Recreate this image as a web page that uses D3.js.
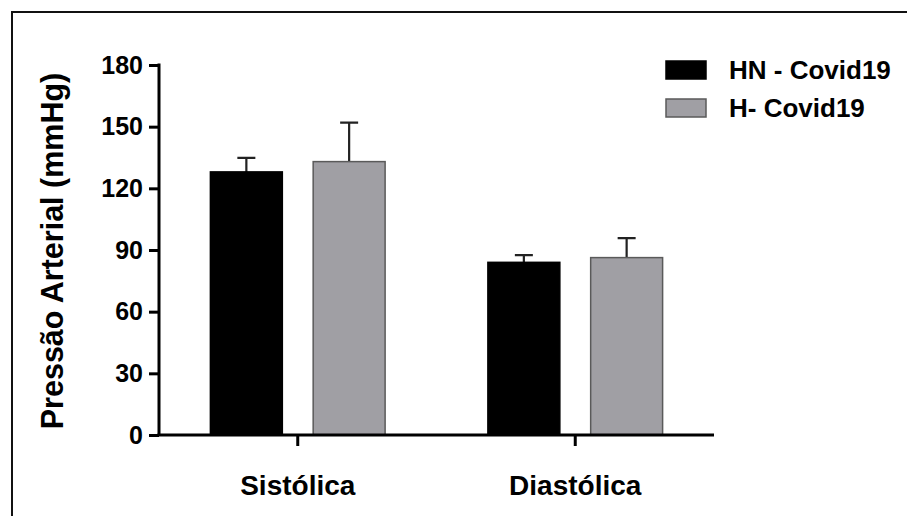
<!DOCTYPE html>
<html>
<head>
<meta charset="utf-8">
<script src="https://cdn.jsdelivr.net/npm/d3@7"></script>
<style>
  body { margin: 0; background: #fff; }
  svg { display: block; font-family: "Liberation Sans", Arial, sans-serif; font-weight: bold; }
</style>
</head>
<body>
<div class="chart"></div>
<script>
// data
const categories = ["Sistólica", "Diastólica"];
const groups = ["HN - Covid19", "H- Covid19"];
const hnMeans = [128, 84];      // HN - Covid19
const hnSd = [6.8, 3.5];
const hMeans = [133, 86.3];     // H- Covid19
const hSd = [19, 9.5];
const yTicks = [0, 30, 60, 90, 120, 150, 180];
const colours = ["#000000", "#a09fa4"];
const strokes = ["#000000", "#5a5a5a"];

const font = "'Liberation Sans', Arial, sans-serif";

const svg = d3.select(".chart")
    .append("svg")
    .attr("width", 907)
    .attr("height", 516);

// frame (top and left only, the rest falls outside the picture)
svg.append("path")
    .attr("d", "M12,516 V12 H907")
    .attr("fill", "none")
    .attr("stroke", "#111")
    .attr("stroke-width", 2);

const rows = categories.map((c, i) => ({
    cat: c,
    vals: [
        {g: groups[0], mean: hnMeans[i], sd: hnSd[i], k: 0},
        {g: groups[1], mean: hMeans[i], sd: hSd[i], k: 1}
    ]
}));

const x0 = d3.scaleBand().domain(categories).range([159, 714]).padding(0);
const x1 = d3.scaleBand().domain(groups).range([0, x0.bandwidth()])
    .paddingInner(0.3).paddingOuter(0.5);
const y = d3.scaleLinear().domain([0, 180]).range([435, 65]);

// bars
const g = svg.selectAll("g.grp")
    .data(rows)
    .join("g")
    .attr("class", "grp")
    .attr("transform", d => `translate(${x0(d.cat)},0)`);

// error bars first so bar tops cover the stem
g.selectAll("path.err")
    .data(d => d.vals)
    .join("path")
    .attr("class", "err")
    .attr("d", d => {
        const cx = x1(d.g) + x1.bandwidth() / 2;
        const top = y(d.mean + d.sd);
        return `M${cx},${y(d.mean)} V${top} M${cx - 9},${top} H${cx + 9}`;
    })
    .attr("fill", "none")
    .attr("stroke", "#222")
    .attr("stroke-width", 2.2);

g.selectAll("rect")
    .data(d => d.vals)
    .join("rect")
    .attr("x", d => x1(d.g))
    .attr("y", d => y(d.mean))
    .attr("width", x1.bandwidth())
    .attr("height", d => y(0) - y(d.mean))
    .attr("fill", d => colours[d.k])
    .attr("stroke", d => strokes[d.k])
    .attr("stroke-width", 1.5);

// y axis
const yAxis = svg.append("g")
    .attr("transform", "translate(159,0)")
    .call(d3.axisLeft(y).tickValues(yTicks).tickSize(10).tickPadding(6));
yAxis.select(".domain").attr("stroke-width", 3).attr("d", "M0,63.5V435");
yAxis.selectAll(".tick line").attr("stroke-width", 3);
yAxis.selectAll(".tick text")
    .attr("font-size", 25)
    .attr("font-weight", "bold")
    .attr("fill", "#000")
    .attr("font-family", font);

// x axis
const xAxis = svg.append("g")
    .attr("transform", "translate(0,435)")
    .call(d3.axisBottom(x0).tickSize(11).tickPadding(29));
xAxis.select(".domain").attr("stroke-width", 3).attr("d", "M157.5,0H714");
xAxis.selectAll(".tick line").attr("stroke-width", 3);
xAxis.selectAll(".tick text")
    .attr("font-size", 28)
    .attr("font-weight", "bold")
    .attr("fill", "#000")
    .attr("font-family", font);

// y title
svg.append("text")
    .attr("transform", "translate(63,251) rotate(-90)")
    .attr("text-anchor", "middle")
    .attr("font-size", 30.5)
    .text("Pressão Arterial (mmHg)");

// legend
const leg = svg.selectAll("g.leg")
    .data(groups)
    .join("g")
    .attr("class", "leg")
    .attr("transform", (d, i) => `translate(666,${61 + i * 38})`);
leg.append("rect")
    .attr("width", 40)
    .attr("height", 18)
    .attr("fill", (d, i) => colours[i])
    .attr("stroke", (d, i) => strokes[i])
    .attr("stroke-width", 1.5);
leg.append("text")
    .attr("x", 63)
    .attr("y", 18)
    .attr("font-size", 26)
    .text(d => d);
</script>
</body>
</html>
